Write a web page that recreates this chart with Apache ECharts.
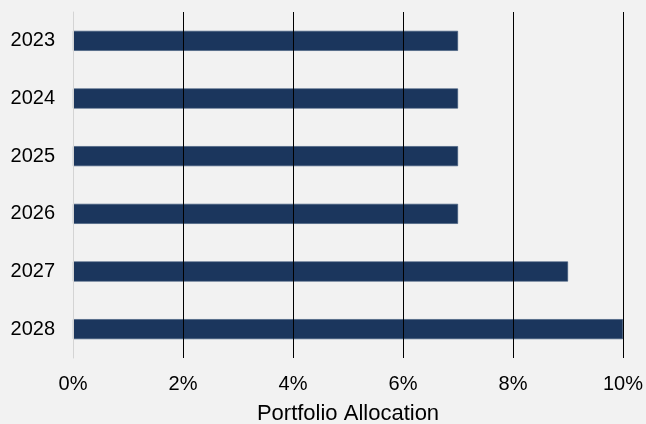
<!DOCTYPE html>
<html><head><meta charset="utf-8">
<script src="https://cdn.jsdelivr.net/npm/echarts@6/dist/echarts.min.js"></script>
<style>html,body{margin:0;padding:0;background:#f2f2f2;}#c{width:646px;height:424px;}</style>
</head><body><div id="c"></div>
<script>
const categories = ['2023','2024','2025','2026','2027','2028'];
const allocation = [7, 7, 7, 7, 9, 10];
const xTicks = [0, 2, 4, 6, 8, 10];

const chart = echarts.init(document.getElementById('c'), null, {renderer:'canvas'});
chart.setOption({
  backgroundColor: '#f2f2f2',
  animation: false,
  textStyle: {fontFamily: 'Liberation Sans, Arial, sans-serif'},
  grid: {left: 73, right: 23, top: 12, bottom: 66, containLabel: false, outerBoundsMode: 'none'},
  xAxis: {
    type: 'value', min: xTicks[0], max: xTicks[xTicks.length-1], interval: 2,
    z: 5,
    name: 'Portfolio Allocation', nameLocation: 'middle', nameGap: 45,
    nameTextStyle: {fontSize: 22, color: '#000', fontFamily: 'Liberation Sans, Arial, sans-serif'},
    axisLine: {show: false}, axisTick: {show: false},
    axisLabel: {formatter: v => v + '%', fontSize: 20, color: '#000', margin: 16, fontFamily: 'Liberation Sans, Arial, sans-serif'},
    splitLine: {show: true, lineStyle: {color: ['#d4d4d4', '#000', '#000', '#000', '#000', '#000'], width: 1}}
  },
  yAxis: {
    type: 'category', data: categories, inverse: true,
    axisLine: {show: true, lineStyle: {color: '#d4d4d4', width: 1}},
    axisTick: {show: false},
    axisLabel: {fontSize: 20, color: '#000', margin: 18, fontFamily: 'Liberation Sans, Arial, sans-serif'},
    splitLine: {show: false}
  },
  series: [{
    type: 'bar', data: allocation, barWidth: 20,
    itemStyle: {color: '#1b365d', borderColor: '#3b5679', borderWidth: 0.6}
  }]
});
</script></body></html>
